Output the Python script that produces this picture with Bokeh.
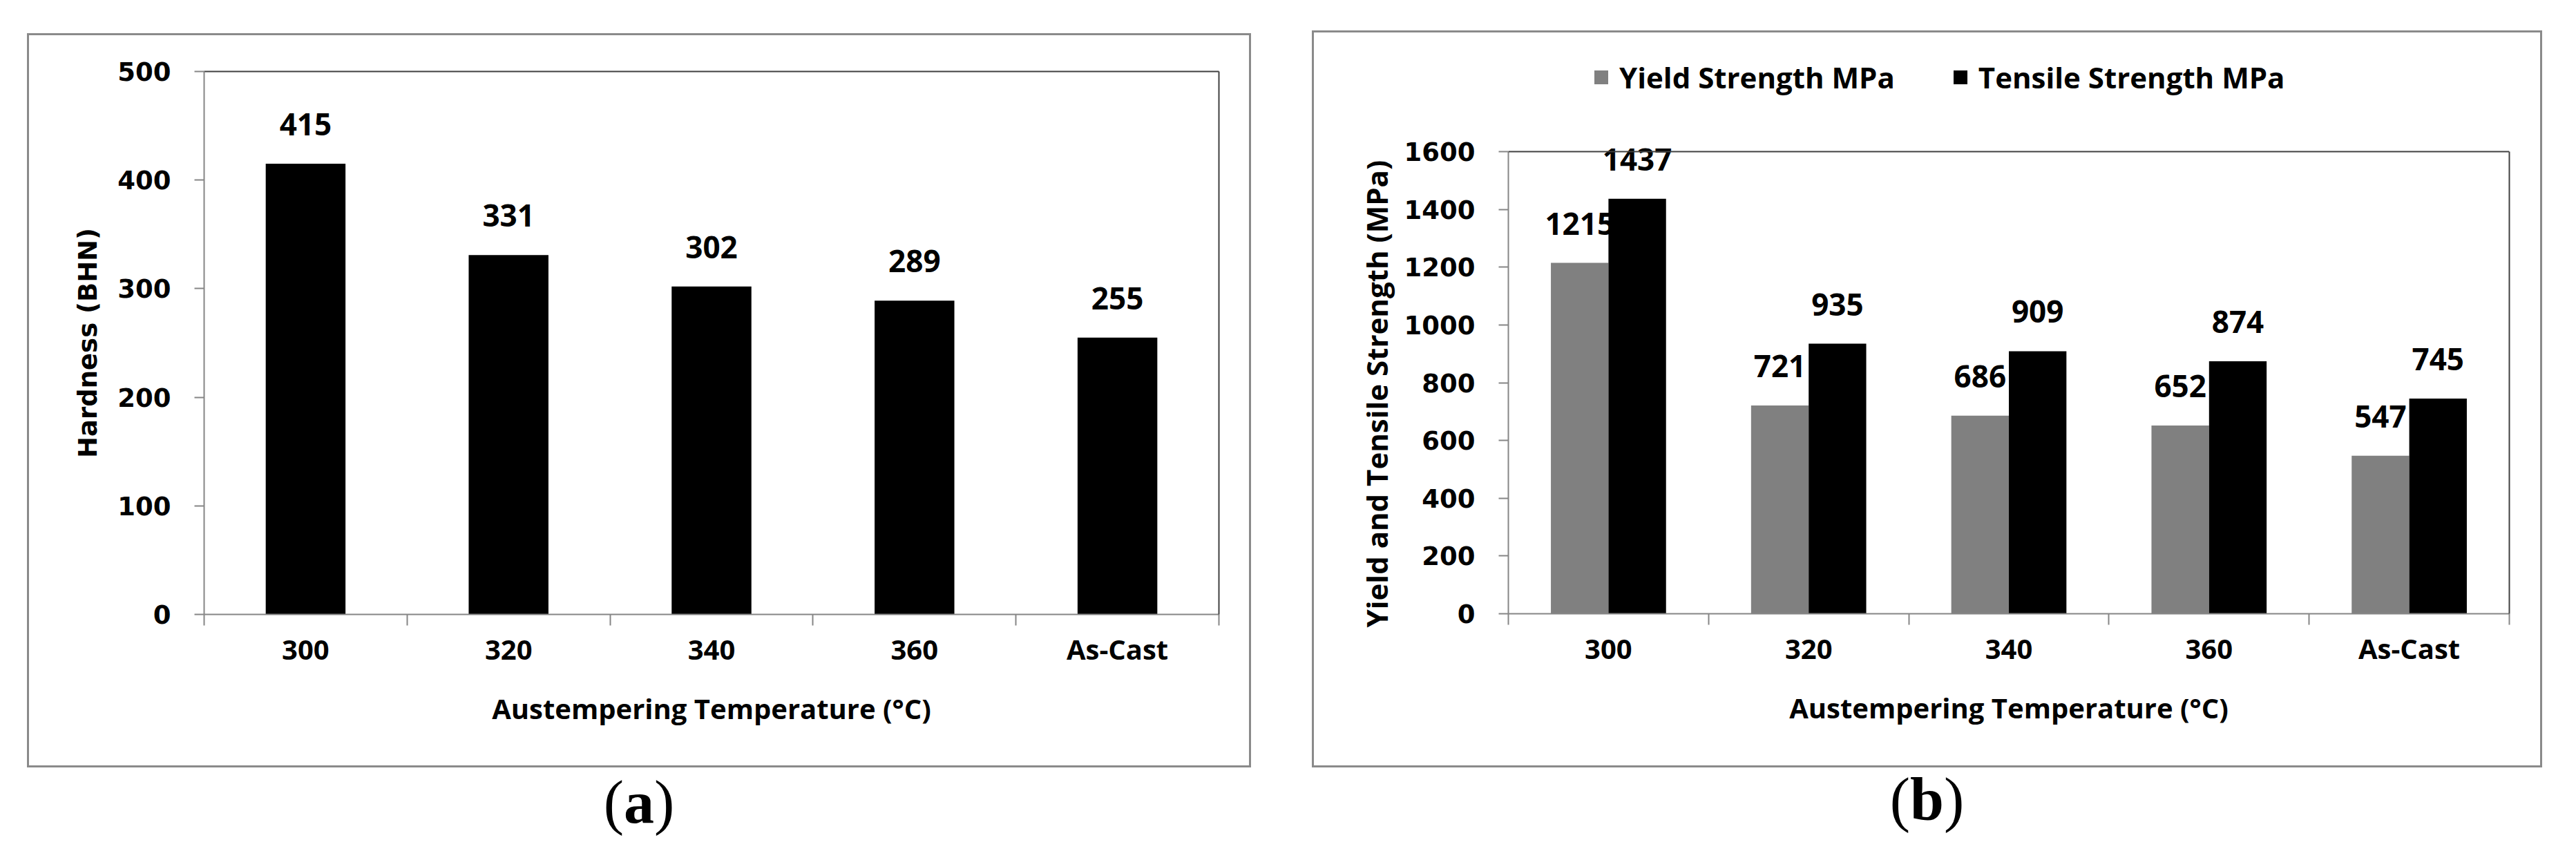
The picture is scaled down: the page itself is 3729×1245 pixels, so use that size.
import numpy as np
from bokeh.plotting import figure
from bokeh.models import (Range1d, FixedTicker, LinearAxis, Legend, LegendItem, Div,
                          ColumnDataSource, Span, Title)
from bokeh.layouts import row, column
from bokeh.embed import file_html
from bokeh.resources import INLINE
from bokeh.core.properties import value

# ---------------- data ----------------
temperatures = ["300", "320", "340", "360", "As-Cast"]
hardness_bhn = [415, 331, 302, 289, 255]
yield_strength_mpa = [1215, 721, 686, 652, 547]
tensile_strength_mpa = [1437, 935, 909, 874, 745]
hardness_ticks = [0, 100, 200, 300, 400, 500]
strength_ticks = [0, 200, 400, 600, 800, 1000, 1200, 1400, 1600]
x_title = "Austempering Temperature (°C)"
hardness_title = "Hardness (BHN)"
strength_title = "Yield and Tensile Strength (MPa)"
series_names = ["Yield Strength MPa", "Tensile Strength MPa"]
captions = ["a", "b"]

AXIS_GREY = "#868686"
DARK = "#404040"
FRAME = "3px solid #8a8a8a"

n = len(temperatures)
centers = np.arange(n) + 0.5
bounds = np.arange(n + 1)


def base_fig(width, height, yticks, ytitle, ytitle_font, ytitle_size, borders,
             extra_top_px=0, title_offset=None):
    left, right, top, bottom = borders
    ymin, ytop = yticks[0], yticks[-1]
    # frame height in pixels; an optional strip above the value axis holds the legend
    frame_h = height - 6 - top - bottom
    ymax = ytop * frame_h / (frame_h - extra_top_px)
    p = figure(width=width, height=height, output_backend="svg", toolbar_location=None,
               x_range=Range1d(0, n), y_range=Range1d(ymin, ymax),
               min_border_left=left, min_border_right=right,
               min_border_top=top, min_border_bottom=bottom,
               styles={"border": FRAME})
    p.outline_line_color = None
    p.grid.grid_line_color = None
    p.background_fill_color = "white"
    p.border_fill_color = "white"

    # x axis: labels at category centres, ticks at category boundaries
    xa = p.xaxis[0]
    xa.ticker = FixedTicker(ticks=list(centers), minor_ticks=list(bounds))
    xa.major_label_overrides = {float(c): t for c, t in zip(centers, temperatures)}
    xa.major_tick_line_color = None
    xa.major_tick_out = 16
    xa.major_tick_in = 0
    xa.minor_tick_line_color = AXIS_GREY
    xa.minor_tick_line_width = 2
    xa.minor_tick_out = 16
    xa.minor_tick_in = 0
    xa.axis_line_color = AXIS_GREY
    xa.axis_line_width = 2
    xa.major_label_text_font = "Open Sans"
    xa.major_label_text_font_style = "bold"
    xa.major_label_text_font_size = "40px"
    xa.major_label_text_color = "black"
    xa.major_label_standoff = 6
    xa.axis_label = x_title
    xa.axis_label_text_font = "Open Sans"
    xa.axis_label_text_font_style = "bold"
    xa.axis_label_text_font_size = "40px"
    xa.axis_label_text_color = "black"
    xa.axis_label_standoff = 28

    ya = p.yaxis[0]
    ya.ticker = FixedTicker(ticks=yticks)
    ya.bounds = (ymin, ytop)
    ya.major_tick_out = 14
    ya.major_tick_in = 0
    ya.major_tick_line_color = AXIS_GREY
    ya.major_tick_line_width = 2
    ya.minor_tick_line_color = None
    ya.axis_line_color = AXIS_GREY
    ya.axis_line_width = 2
    ya.major_label_text_font = "DejaVu Sans"
    ya.major_label_text_font_style = "bold"
    ya.major_label_text_font_size = "37px"
    ya.major_label_text_color = "black"
    ya.major_label_standoff = 34
    if title_offset is None:
        ya.axis_label = ytitle
        ya.axis_label_text_font = ytitle_font
        ya.axis_label_text_font_style = "bold"
        ya.axis_label_text_font_size = ytitle_size
        ya.axis_label_text_color = "black"
        ya.axis_label_standoff = 18
    else:
        t = Title(text=ytitle, align="left", offset=title_offset,
                  text_font=ytitle_font, text_font_style="bold",
                  text_font_size=ytitle_size, text_color="black")
        if "standoff" in Title.properties():
            t.standoff = 18
        p.add_layout(t, "left")

    # dark top and right border of the plot area
    right_ax = LinearAxis(ticker=FixedTicker(ticks=[]), bounds=(ymin, ytop),
                          axis_line_color=DARK, axis_line_width=2,
                          major_tick_line_color=None, minor_tick_line_color=None,
                          major_tick_out=0, major_tick_in=0, major_label_standoff=0,
                          major_label_text_font_size="0px")
    p.add_layout(right_ax, "right")
    if extra_top_px:
        p.add_layout(Span(location=ytop, dimension="width", line_color=DARK, line_width=2))
    else:
        top_ax = LinearAxis(ticker=FixedTicker(ticks=[]), axis_line_color=DARK,
                            axis_line_width=2, major_tick_line_color=None,
                            minor_tick_line_color=None, major_tick_out=0, major_tick_in=0,
                            major_label_standoff=0, major_label_text_font_size="0px")
        p.add_layout(top_ax, "above")
    return p


def value_labels(p, xs, vals):
    src = ColumnDataSource(dict(x=list(xs), y=list(vals), t=[str(v) for v in vals]))
    p.text(x="x", y="y", text="t", source=src, text_font=value("Open Sans"),
           text_font_style="bold", text_font_size="44px", text_color="black",
           text_align="center", text_baseline="alphabetic", y_offset=-57)


# ---------------- panel (a) ----------------
pa = base_fig(1772, 1063, hardness_ticks, hardness_title, "DejaVu Sans", "37px",
              (253, 50, 52, 225))
pa.vbar(x=centers, top=hardness_bhn, width=0.393, bottom=0,
        fill_color="black", line_color=None)
value_labels(pa, centers, hardness_bhn)

# ---------------- panel (b) ----------------
pb = base_fig(1781, 1067, strength_ticks, strength_title, "Open Sans", "42px",
              (281, 51, 20, 226), extra_top_px=151, title_offset=-20)
bw = 0.2876
ry = pb.vbar(x=centers - bw / 2, top=yield_strength_mpa, width=bw, bottom=0,
             fill_color="#808080", line_color=None)
rt = pb.vbar(x=centers + bw / 2, top=tensile_strength_mpa, width=bw, bottom=0,
             fill_color="black", line_color=None)
value_labels(pb, centers - bw / 2, yield_strength_mpa)
value_labels(pb, centers + bw / 2, tensile_strength_mpa)

legend = Legend(items=[LegendItem(label=series_names[0], renderers=[ry]),
                       LegendItem(label=series_names[1], renderers=[rt])],
                orientation="horizontal", location=(122, 748),
                border_line_color=None, background_fill_alpha=0,
                padding=0, margin=0, spacing=82, label_standoff=14,
                glyph_width=25, glyph_height=25,
                label_text_font="Open Sans", label_text_font_style="bold",
                label_text_font_size="42px", label_text_color="black")
pb.add_layout(legend)


def caption(letter, width):
    return Div(text=f"(<b>{letter}</b>)", width=width, height=100,
               styles={"text-align": "center", "font-family": "Liberation Serif",
                       "font-size": "88px", "line-height": "1", "color": "black",
                       "width": f"{width}px"})


pa.margin = (48, 0, 0, 39)
pb.margin = (44, 0, 0, 88)
ca = caption(captions[0], 1772)
cb = caption(captions[1], 1781)
ca.margin = (7, 0, 0, 39)
cb.margin = (3, 0, 0, 88)

layout = row(column(pa, ca), column(pb, cb))

open("out.html", "w").write(file_html(layout, INLINE))
